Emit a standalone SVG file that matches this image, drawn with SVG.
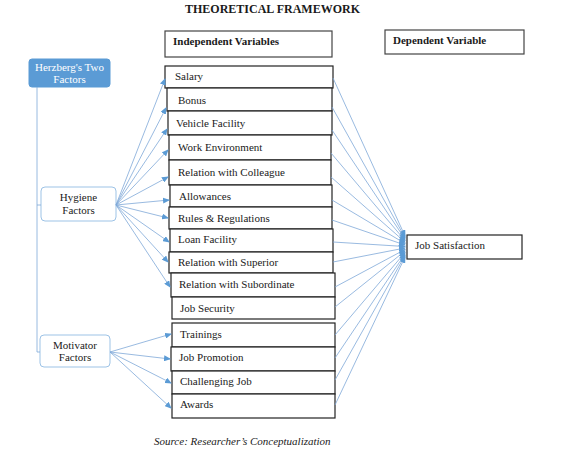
<svg xmlns="http://www.w3.org/2000/svg" width="580" height="450" viewBox="0 0 580 450">
<style>
text{font-family:"Liberation Serif","Times New Roman",serif;fill:#1a1a1a;font-size:11px}
.b{font-weight:bold}
.box{fill:#fff;stroke:#222;stroke-width:1.2}
.hdr{fill:#fff;stroke:#444;stroke-width:1.2}
.fac{fill:#fff;stroke:#9dc3e6;stroke-width:1}
.w{fill:#fff}
.c{text-anchor:middle}
.ln{stroke:#7fa8d8;stroke-width:0.8;fill:none}
.ar{stroke:#7fa8d8;stroke-width:0.8;fill:none;marker-end:url(#ah)}
</style>
<defs>
<marker id="ah" markerWidth="7" markerHeight="6" refX="6" refY="3" orient="auto" markerUnits="userSpaceOnUse">
<path d="M0,0 L7,3 L0,6 z" fill="#5b9bd5"/>
</marker>
</defs>
<rect width="580" height="450" fill="#fff"/>
<text x="272.5" y="13" class="b c" style="font-size:12px">THEORETICAL FRAMEWORK</text>

<g id="hdr-independent"><rect x="165" y="31" width="167" height="26" class="hdr"/><text x="173" y="45" class="b">Independent Variables</text></g>
<g id="hdr-dependent"><rect x="385" y="30" width="139" height="24" class="hdr"/><text x="393" y="44" class="b">Dependent Variable</text></g>

<g id="herzberg"><rect x="29" y="59" width="81" height="28" rx="3" fill="#5b9bd5" stroke="#5b9bd5"/><text x="69.5" y="71" class="w c">Herzberg's Two</text><text x="69.5" y="83" class="w c">Factors</text></g>
<g id="hygiene"><rect x="41" y="187" width="75" height="34" rx="4" class="fac"/><text x="78.5" y="201" class="c">Hygiene</text><text x="78.5" y="214" class="c">Factors</text></g>
<g id="motivator"><rect x="40" y="335" width="70" height="32" rx="4" class="fac"/><text x="75" y="349" class="c">Motivator</text><text x="75" y="361" class="c">Factors</text></g>

<g id="salary"><rect x="165" y="66" width="168" height="22" class="box"/><text x="175" y="80">Salary</text></g>
<g id="bonus"><rect x="167" y="88" width="165" height="23" class="box"/><text x="178" y="104">Bonus</text></g>
<g id="vehicle"><rect x="168" y="111" width="164" height="24" class="box"/><text x="176" y="127">Vehicle Facility</text></g>
<g id="workenv"><rect x="169" y="135" width="162" height="25" class="box"/><text x="178" y="151">Work Environment</text></g>
<g id="colleague"><rect x="169" y="160" width="162" height="25" class="box"/><text x="178" y="176">Relation with Colleague</text></g>
<g id="allowances"><rect x="170" y="185" width="162" height="22" class="box"/><text x="179" y="200">Allowances</text></g>
<g id="rules"><rect x="169" y="207" width="163" height="22" class="box"/><text x="178" y="222">Rules &amp; Regulations</text></g>
<g id="loan"><rect x="170" y="229" width="163" height="23" class="box"/><text x="178" y="243">Loan Facility</text></g>
<g id="superior"><rect x="169" y="252" width="164" height="21" class="box"/><text x="178" y="266">Relation with Superior</text></g>
<g id="subordinate"><rect x="171" y="273" width="164" height="24" class="box"/><text x="179" y="288">Relation with Subordinate</text></g>
<g id="jobsecurity"><rect x="172" y="297" width="163" height="22" class="box"/><text x="180" y="312">Job Security</text></g>
<g id="trainings"><rect x="172" y="323" width="163" height="24" class="box"/><text x="180" y="338">Trainings</text></g>
<g id="promotion"><rect x="171" y="347" width="164" height="24" class="box"/><text x="179" y="361">Job Promotion</text></g>
<g id="challenging"><rect x="172" y="371" width="163" height="23" class="box"/><text x="180" y="385">Challenging Job</text></g>
<g id="awards"><rect x="172" y="394" width="163" height="24" class="box"/><text x="180" y="408">Awards</text></g>

<g id="jobsatisfaction"><rect x="407" y="235" width="115" height="24" class="box"/><text x="415" y="249">Job Satisfaction</text></g>

<g id="connectors">
<path class="ln" d="M37,87 V352 H40 M37,205 H41"/>
<path class="ar" d="M116,205 L165,79"/>
<path class="ar" d="M116,205 L166,108"/>
<path class="ar" d="M116,205 L167,129"/>
<path class="ar" d="M116,205 L168,150"/>
<path class="ar" d="M116,205 L168,177"/>
<path class="ar" d="M116,205 L169,200"/>
<path class="ar" d="M116,205 L168,218"/>
<path class="ar" d="M116,205 L169,242"/>
<path class="ar" d="M116,205 L168,262"/>
<path class="ar" d="M116,205 L170,287"/>
<path class="ar" d="M110,352 L171,334"/>
<path class="ar" d="M110,352 L170,359"/>
<path class="ar" d="M110,352 L171,383"/>
<path class="ar" d="M110,352 L171,408"/>
<path class="ar" d="M333,78 L405,236"/>
<path class="ar" d="M332,107 L405,237.5"/>
<path class="ar" d="M332,130 L405,239"/>
<path class="ar" d="M331,153 L405,240.5"/>
<path class="ar" d="M331,177 L405,242"/>
<path class="ar" d="M332,200 L405,243.5"/>
<path class="ar" d="M332,220 L405,245"/>
<path class="ar" d="M333,242 L405,246.5"/>
<path class="ar" d="M333,262 L405,248"/>
<path class="ar" d="M335,287 L405,249.5"/>
<path class="ar" d="M335,307 L405,251"/>
<path class="ar" d="M335,335 L405,252.5"/>
<path class="ar" d="M335,358 L405,254"/>
<path class="ar" d="M335,380 L405,255.5"/>
<path class="ar" d="M335,405 L405,257"/>
</g>

<text x="154" y="445" style="font-style:italic">Source: Researcher’s Conceptualization</text>
</svg>
